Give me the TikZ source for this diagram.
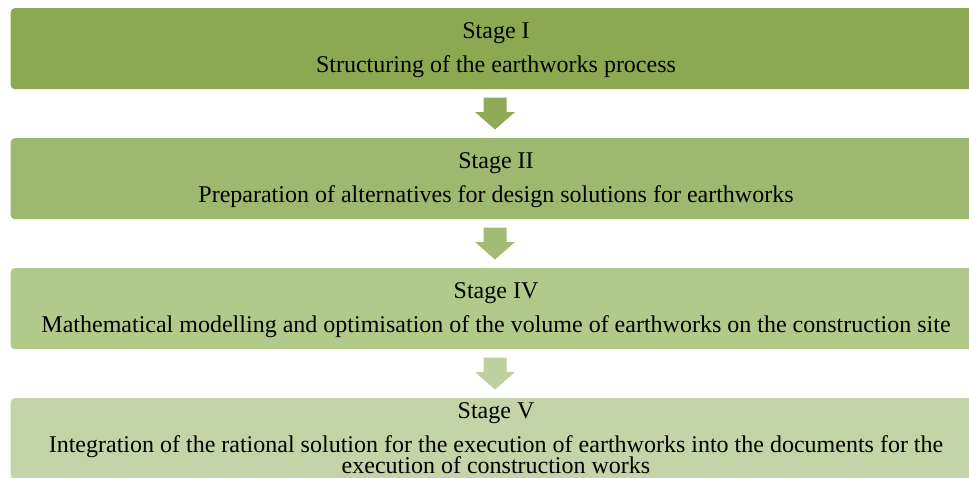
\documentclass[tikz,border=0pt]{standalone}
\usepackage{fontspec}
\setmainfont{Liberation Serif}
\usetikzlibrary{calc}

\definecolor{stageA}{RGB}{140,169,81}
\definecolor{stageB}{RGB}{158,185,111}
\definecolor{stageC}{RGB}{177,201,138}
\definecolor{stageD}{RGB}{195,212,166}
\definecolor{arrowA}{RGB}{143,171,85}
\definecolor{arrowB}{RGB}{163,188,117}
\definecolor{arrowC}{RGB}{189,208,157}

% downward block arrow hanging from a named coordinate (top centre)
\newcommand\blockdown[2]{%
  \fill[#2] ($(#1)+(-11.5,0)$) -- ($(#1)+(11.5,0)$) -- ($(#1)+(11.5,14.5)$)
    -- ($(#1)+(20,14.5)$) -- ($(#1)+(0,32)$) -- ($(#1)+(-20,14.5)$)
    -- ($(#1)+(-11.5,14.5)$) -- cycle;}

\begin{document}
\begin{tikzpicture}[x=1pt,y=-1pt,
  stagebox/.style={rounded corners=4pt, draw=none, inner sep=0pt,
    minimum width=975pt, minimum height=81pt, anchor=north west},
  lbl/.style={anchor=base, inner sep=0pt, text=black,
    font=\fontsize{24}{28}\selectfont}]
\useasboundingbox (0,0) rectangle (969,477);
\clip (0,0) rectangle (969,477);

% stage boxes
\node[stagebox, fill=stageA] (s1) at (10.5,8) {};
\node[stagebox, fill=stageB] (s2) at (10.5,138) {};
\node[stagebox, fill=stageC] (s3) at (10.5,268) {};
\node[stagebox, fill=stageD] (s4) at (10.5,398) {};

% arrows between the stages
\coordinate (a1) at (495,97.5);
\coordinate (a2) at (495,227.5);
\coordinate (a3) at (495,357.5);
\blockdown{a1}{arrowA}
\blockdown{a2}{arrowB}
\blockdown{a3}{arrowC}

% texts
\node[lbl] (t1a) at (496,38) {Stage I};
\node[lbl] (t1b) at (496,72) {Structuring of the earthworks process};
\node[lbl] (t2a) at (496,168) {Stage II};
\node[lbl] (t2b) at (496,202) {Preparation of alternatives for design solutions for earthworks};
\node[lbl] (t3a) at (496,298) {Stage IV};
\node[lbl] (t3b) at (496,332) {Mathematical modelling and optimisation of the volume of earthworks on the construction site};
\node[lbl] (t4a) at (496,418) {Stage V};
\node[lbl] (t4b) at (496,452) {Integration of the rational solution for the execution of earthworks into the documents for the};
\node[lbl] (t4c) at (496,473) {execution of construction works};
\end{tikzpicture}
\end{document}
